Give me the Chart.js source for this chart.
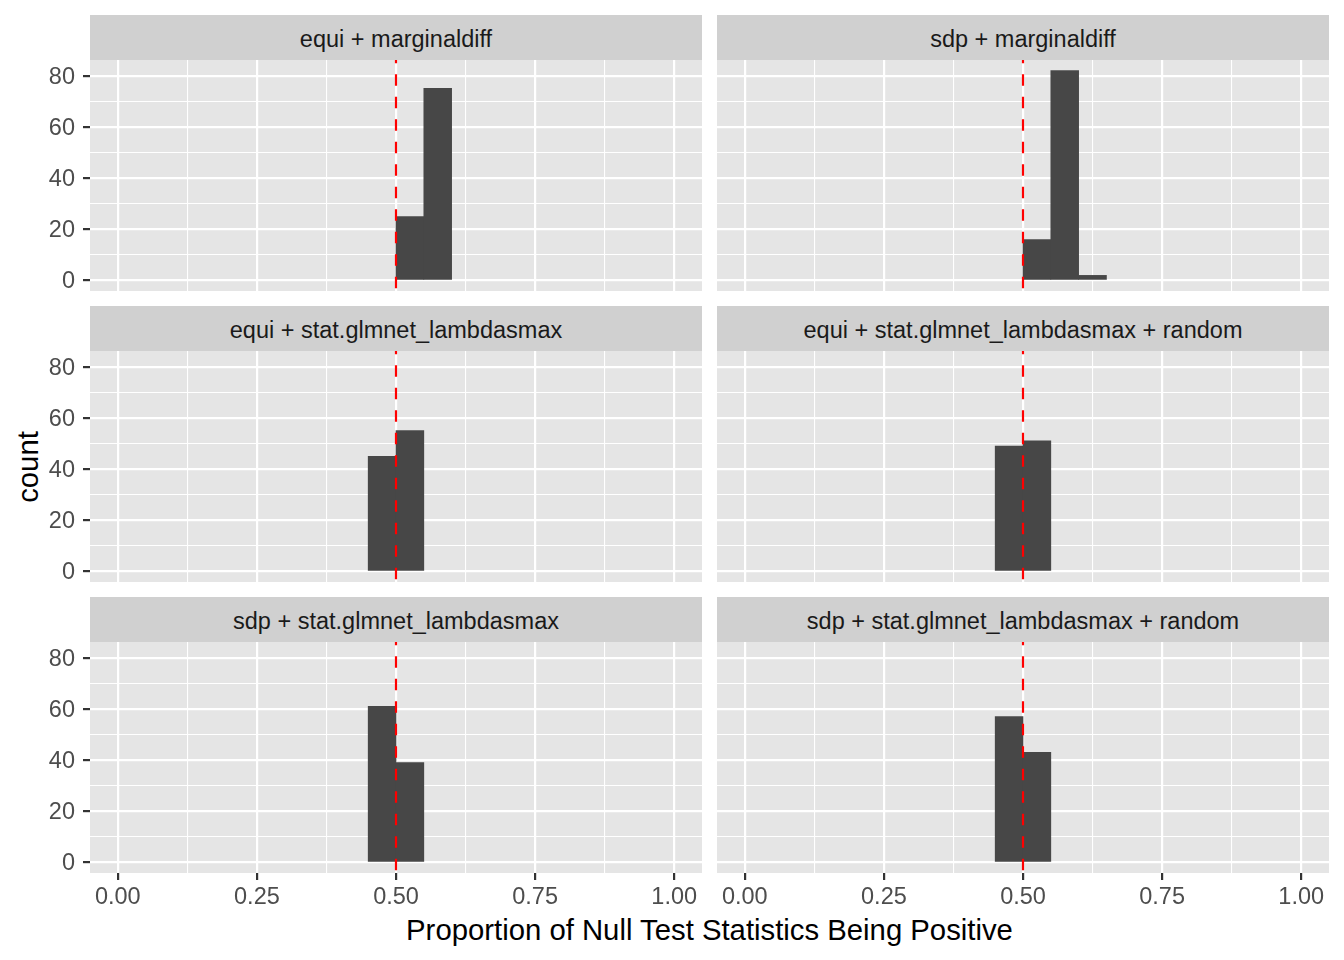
<!DOCTYPE html>
<html lang="en">
<head>
<meta charset="UTF-8">
<title>Proportion of Null Test Statistics Being Positive</title>
<script src="https://cdn.jsdelivr.net/npm/chart.js"></script>
<style>
  body { margin: 0; background: #fff; }
  #fig { position: relative; width: 1344px; height: 960px; background: #fff; font-family: "Liberation Sans", Arial, sans-serif; }
  .strip { position: absolute; height: 43px; padding-top: 2px; line-height: 45px; background: #d0d0d0; color: #1a1a1a; font-size: 23.5px; text-align: center; white-space: nowrap; overflow: hidden; }
  canvas { position: absolute; }
  .xtitle { position: absolute; left: 90px; width: 1239px; top: 913px; text-align: center; font-size: 29.3px; color: #000; }
  .ytitle { position: absolute; left: 28px; top: 467px; transform: translate(-50%, -50%) rotate(-90deg); font-size: 29.3px; color: #000; white-space: nowrap; }
</style>
</head>
<body>
<div id="fig">
  <div class="xtitle">Proportion of Null Test Statistics Being Positive</div>
  <div class="ytitle">count</div>
</div>

<script>
// facet titles, row by row
const panelTitles = [
  'equi + marginaldiff',
  'sdp + marginaldiff',
  'equi + stat.glmnet_lambdasmax',
  'equi + stat.glmnet_lambdasmax + random',
  'sdp + stat.glmnet_lambdasmax',
  'sdp + stat.glmnet_lambdasmax + random'
];
// histogram bins (centres, binwidth 0.05) and counts per facet
const binCenters = [
  [0.525, 0.575],
  [0.525, 0.575, 0.625],
  [0.475, 0.525],
  [0.475, 0.525],
  [0.475, 0.525],
  [0.475, 0.525]
];
const binCounts = [
  [25, 75],
  [16, 82, 2],
  [45, 55],
  [49, 51],
  [61, 39],
  [57, 43]
];
const xMajor = [0, 0.25, 0.5, 0.75, 1];
const xMinor = [0.125, 0.375, 0.625, 0.875];
const yMajor = [0, 20, 40, 60, 80];
const yMinor = [10, 30, 50, 70];
const refLine = 0.5;

Chart.defaults.font.family = '"Liberation Sans", Arial, sans-serif';

const fig = document.getElementById('fig');
const colLeft = [90, 717];
const panelW = 612, panelH = 231;
const rowTop = [60, 351, 642];

const panelBg = {
  id: 'panelBg',
  beforeDraw(chart) {
    const a = chart.chartArea, c = chart.ctx;
    c.save();
    c.fillStyle = '#e5e5e5';
    c.fillRect(a.left, a.top, a.right - a.left, a.bottom - a.top);
    c.restore();
  }
};

const vline = {
  id: 'vline',
  afterDatasetsDraw(chart) {
    const a = chart.chartArea, c = chart.ctx;
    const x = chart.scales.x.getPixelForValue(refLine);
    c.save();
    c.strokeStyle = '#ff0000';
    c.lineWidth = 2.2;
    c.setLineDash([11.5, 11]);
    c.lineDashOffset = 8.2;
    c.beginPath();
    c.moveTo(x, a.top);
    c.lineTo(x, a.bottom);
    c.stroke();
    c.restore();
  }
};

function isMajor(list, v) {
  return list.some(m => Math.abs(m - v) < 1e-9);
}

panelTitles.forEach((title, i) => {
  const row = Math.floor(i / 2), col = i % 2;
  const showY = col === 0, showX = row === 2;
  const yW = showY ? 90 : 0, xH = showX ? 50 : 0;

  const strip = document.createElement('div');
  strip.className = 'strip';
  strip.style.left = colLeft[col] + 'px';
  strip.style.top = (rowTop[row] - 45) + 'px';
  strip.style.width = panelW + 'px';
  strip.textContent = title;
  fig.appendChild(strip);

  const cv = document.createElement('canvas');
  cv.width = panelW + yW;
  cv.height = panelH + xH;
  cv.style.left = (colLeft[col] - yW) + 'px';
  cv.style.top = rowTop[row] + 'px';
  fig.appendChild(cv);

  new Chart(cv.getContext('2d'), {
    type: 'bar',
    data: {
      datasets: [{
        data: binCenters[i].map((x, k) => ({ x: x, y: binCounts[i][k] })),
        backgroundColor: '#474747',
        borderWidth: 0,
        barPercentage: 1,
        categoryPercentage: 1
      }]
    },
    options: {
      responsive: false,
      animation: false,
      layout: { padding: 0 },
      plugins: { legend: { display: false }, tooltip: { enabled: false } },
      scales: {
        x: {
          type: 'linear',
          min: -0.05,
          max: 1.05,
          offset: false,
          afterBuildTicks: s => { s.ticks = xMajor.concat(xMinor).sort((a, b) => a - b).map(v => ({ value: v })); },
          afterFit: s => { s.height = xH; s.paddingLeft = 0; s.paddingRight = 0; },
          border: { display: false },
          grid: {
            offset: false,
            color: '#ffffff',
            lineWidth: c => isMajor(xMajor, c.tick.value) ? 2.2 : 1.1,
            drawTicks: showX,
            tickLength: 7,
            tickWidth: 2.2,
            tickColor: c => isMajor(xMajor, c.tick.value) ? '#333333' : 'rgba(0,0,0,0)'
          },
          ticks: {
            display: showX,
            autoSkip: false,
            maxRotation: 0,
            padding: 3,
            color: '#4d4d4d',
            font: { size: 23.5 },
            callback: v => isMajor(xMajor, v) ? v.toFixed(2) : ''
          }
        },
        y: {
          min: -4.1,
          max: 86.1,
          afterBuildTicks: s => { s.ticks = yMajor.concat(yMinor).sort((a, b) => a - b).map(v => ({ value: v })); },
          afterFit: s => { s.width = yW; s.paddingTop = 0; s.paddingBottom = 0; },
          border: { display: false },
          grid: {
            color: '#ffffff',
            lineWidth: c => isMajor(yMajor, c.tick.value) ? 2.2 : 1.1,
            drawTicks: showY,
            tickLength: 7,
            tickWidth: 2.2,
            tickColor: c => isMajor(yMajor, c.tick.value) ? '#333333' : 'rgba(0,0,0,0)'
          },
          ticks: {
            display: showY,
            autoSkip: false,
            padding: 8,
            labelOffset: 1.5,
            color: '#4d4d4d',
            font: { size: 23.5 },
            callback: v => isMajor(yMajor, v) ? String(v) : ''
          }
        }
      }
    },
    plugins: [panelBg, vline]
  });
});
</script>
</body>
</html>
